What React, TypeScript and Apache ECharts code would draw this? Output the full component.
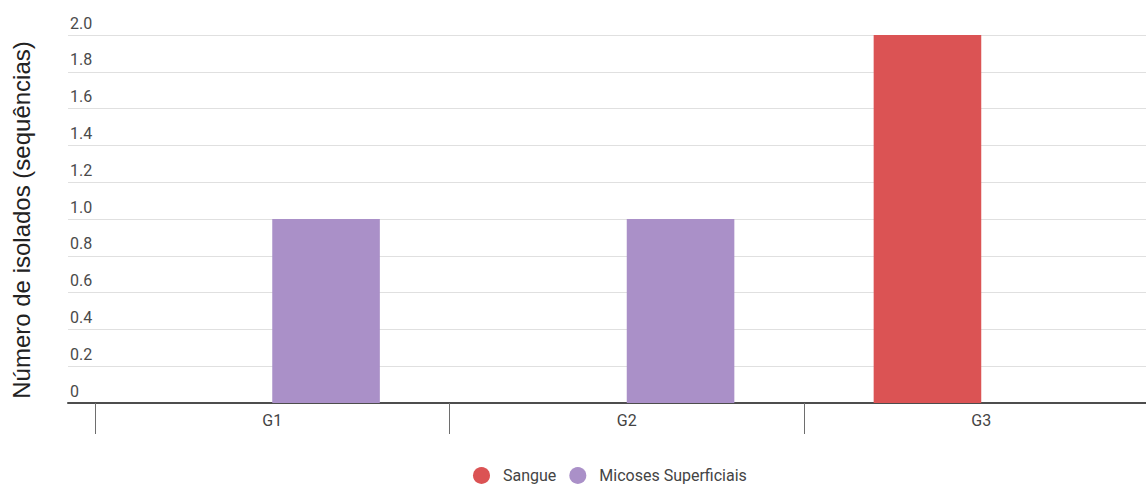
import React, { useEffect, useRef } from "react";
import * as echarts from "echarts";

// Isolate counts per group
const categories = ["G1", "G2", "G3"];
const sangue = [0, 0, 2];
const micoses = [1, 1, 0];
const seriesNames = ["Sangue", "Micoses Superficiais"];
const yTitle = "Número de isolados (sequências)";

const RED = "#db5354";
const PURPLE = "#aa90c8";
const FONT = "Roboto, 'Noto Sans', sans-serif";

// The drawing surface is a little wider than the visible frame, so the
// last category runs past the right edge.
const VIEW_W = 1146;
const VIEW_H = 484;
const CHART_W = 1160;

export default function App() {
  const ref = useRef<HTMLDivElement>(null);

  useEffect(() => {
    if (!ref.current) return;
    const chart = echarts.init(ref.current, undefined, { renderer: "svg" });
    const top = 35;
    const bottom = 81;
    chart.setOption({
      animation: false,
      backgroundColor: "#ffffff",
      textStyle: { fontFamily: FONT },
      grid: [
        // background grid: split lines and baseline, reaching further left
        { left: 68, right: 0, top, bottom },
        // bar grid
        { left: 95, right: 1.5, top, bottom },
      ],
      xAxis: [
        {
          gridIndex: 0,
          type: "value",
          min: 0,
          max: 1,
          axisLine: { show: true, lineStyle: { color: "#4d4d4d", width: 2 } },
          axisTick: { show: false },
          axisLabel: { show: false },
          splitLine: { show: false },
        },
        {
          gridIndex: 1,
          type: "category",
          data: categories,
          axisLine: { show: false },
          axisTick: { show: true, length: 31, lineStyle: { color: "#6e6e6e", width: 1 } },
          axisLabel: { margin: 9, fontSize: 16, color: "#444444", fontFamily: FONT },
          splitLine: { show: false },
        },
      ],
      yAxis: [
        {
          gridIndex: 0,
          type: "value",
          min: 0,
          max: 2,
          interval: 0.2,
          axisLine: { show: false },
          axisTick: { show: false },
          splitLine: { show: true, lineStyle: { color: "#e0e0e0", width: 1 } },
          axisLabel: {
            inside: true,
            margin: 2,
            verticalAlign: "bottom",
            padding: [0, 0, 4, 0],
            fontSize: 16,
            color: "#4a4a4a",
            fontFamily: FONT,
            formatter: (v: number) => (v === 0 ? "0" : v.toFixed(1)),
          },
        },
        {
          gridIndex: 1,
          type: "value",
          min: 0,
          max: 2,
          show: false,
        },
      ],
      legend: {
        left: 473,
        top: 467,
        padding: 0,
        icon: "circle",
        itemWidth: 17,
        itemHeight: 17,
        itemGap: 13,
        data: seriesNames,
        textStyle: { fontSize: 16, color: "#444444", fontFamily: FONT, padding: [0, 0, 0, 8] },
      },
      graphic: [
        {
          type: "text",
          x: 21,
          y: 220,
          rotation: Math.PI / 2,
          style: {
            text: yTitle,
            font: "24px 'Liberation Sans', Arial, sans-serif",
            fill: "#222222",
            align: "center",
            verticalAlign: "middle",
          },
        },
      ],
      series: [
        {
          name: seriesNames[0],
          type: "bar",
          xAxisIndex: 1,
          yAxisIndex: 1,
          data: sangue,
          itemStyle: { color: RED },
          barGap: "0%",
          barCategoryGap: "39.3%",
        },
        {
          name: seriesNames[1],
          type: "bar",
          xAxisIndex: 1,
          yAxisIndex: 1,
          data: micoses,
          itemStyle: { color: PURPLE },
          barGap: "0%",
          barCategoryGap: "39.3%",
        },
      ],
    });
    return () => chart.dispose();
  }, []);

  return (
    <div
      style={{
        position: "absolute",
        left: 0,
        top: 0,
        width: VIEW_W,
        height: VIEW_H,
        overflow: "hidden",
      }}
    >
      <div ref={ref} style={{ width: CHART_W, height: VIEW_H }} />
    </div>
  );
}
